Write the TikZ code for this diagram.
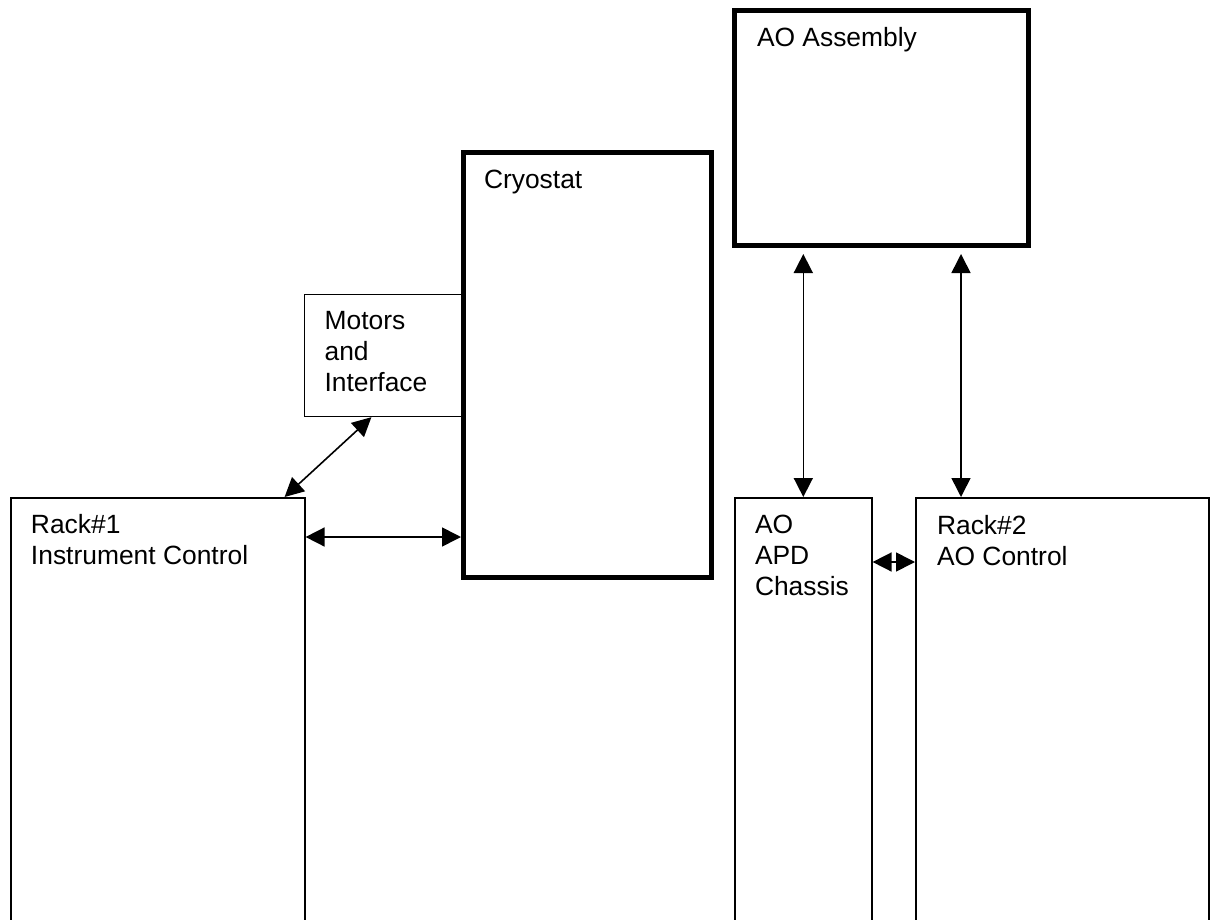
\documentclass[tikz,border=0pt]{standalone}
\usepackage{fontspec}
\setmainfont{Liberation Sans}
\usepackage{tikz}
\usetikzlibrary{arrows.meta, positioning}
\tikzset{every node/.style={font=\fontsize{13.2}{15.5}\selectfont}}
\tikzset{
  box/.style={draw, line width=0.8pt, anchor=north west, inner sep=0pt},
  heavybox/.style={box, line width=2.5pt},
  lbl/.style={anchor=north west, inner sep=0pt, outer sep=0pt, align=left},
  link/.style={{Triangle[length=9.5pt, width=9.5pt]}-{Triangle[length=9.5pt, width=9.5pt]}, line width=0.8pt},
}

\begin{document}
\begin{tikzpicture}[x=0.5pt, y=-0.5pt]
    \useasboundingbox (0, 0) rectangle (1210, 920);
    \clip (0, 0) rectangle (1210, 920);
    \node[box, minimum width=147pt, minimum height=214pt] (rack1) at (10, 497) {};
    \node[lbl, below right=8.5pt and 10.5pt of rack1.north west] (rack1txt) {Rack\#1\\Instrument Control};
    \node[box, minimum width=79pt, minimum height=61pt] (motors) at (303.6, 293.6) {};
    \node[lbl, below right=9pt and 10.5pt of motors.north west] (motorstxt) {Motors\\and\\Interface};
    \node[heavybox, minimum width=124pt, minimum height=212.5pt] (cryo) at (461, 150) {};
    \node[lbl, below right=10pt and 11.5pt of cryo.north west] (cryotxt) {Cryostat};
    \node[heavybox, minimum width=146.75pt, minimum height=117.25pt] (aoasm) at (732, 8.5) {};
    \node[lbl, below right=9.5pt and 12.5pt of aoasm.north west] (aoasmtxt) {AO Assembly};
    \node[box, minimum width=68.5pt, minimum height=214pt] (apd) at (734, 497) {};
    \node[lbl, below right=9pt and 10.5pt of apd.north west] (apdtxt) {AO\\APD\\Chassis};
    \node[box, minimum width=146.5pt, minimum height=214pt] (rack2) at (915, 497) {};
    \node[lbl, below right=9pt and 11pt of rack2.north west] (rack2txt) {Rack\#2\\AO Control};
    \coordinate (r1side) at ([yshift=-20pt]rack1.north east);
    \coordinate (r1top) at ([xshift=-10.5pt]rack1.north east);
    \coordinate (mbot) at ([xshift=-6pt]motors.south);
    \coordinate (r2top) at ([xshift=23pt]rack2.north west);
    \coordinate (apdside) at ([yshift=-32.5pt]apd.north east);
    \draw[link] (r1top) -- (mbot);
    \draw[link] (r1side) -- (r1side -| cryo.west);
    \draw[link, shorten >=3pt] (apd.north) -- (apd.north |- aoasm.south);
    \draw[link, shorten >=3pt] (r2top) -- (r2top |- aoasm.south);
    \draw[link] (apdside) -- (apdside -| rack2.west);
  \end{tikzpicture}
\end{document}
